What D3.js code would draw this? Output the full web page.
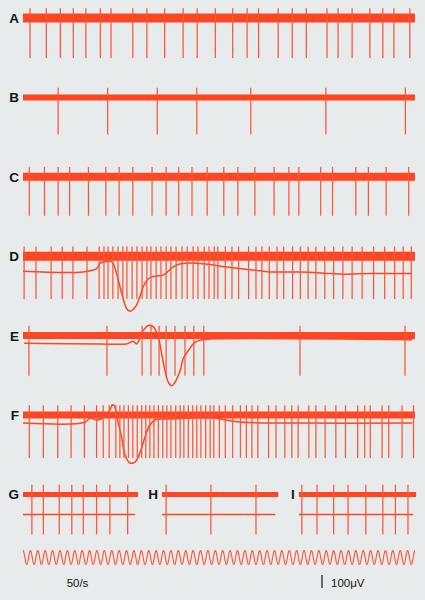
<!DOCTYPE html>
<html><head><meta charset="utf-8">
<script src="https://cdn.jsdelivr.net/npm/d3@7"></script>
<style>
html,body{margin:0;padding:0;background:#e7ebeb;}
svg{display:block;}
</style></head><body>
<svg id="chart" width="425" height="600"></svg>
<script>
// ---- data (time in ms, amplitude in µV) ----
const rowLabels = ["A", "B", "C", "D", "E", "F", "GHI"];
const spikesA = [19,63,101,136,170,209,238,297,335,383,433,471,520,567,606,637,690,728,766,822,852,890,938,973,1003,1046];
const spikesB = [95,229,363,470,616,819,1034];
const spikesC = [17,58,95,126,177,224,260,297,349,387,421,457,498,543,581,627,679,719,746,805,837,900,934,982,1043];
const spikesD = [3,35,76,106,135,173,206,219,230,243,257,270,281,295,308,322,335,346,360,373,387,400,414,430,444,460,473,490,503,517,527,547,565,583,610,630,646,666,687,705,729,750,771,792,816,840,865,890,917,948,978,1005,1028,1050];
const spikesE = [16,227,322,346,368,387,411,438,462,489,749,1033];
const spikesF = [17,55,94,130,166,199,217,233,251,262,273,285,297,309,321,332,343,354,366,378,389,400,413,425,435,447,459,470,481,494,506,516,531,547,567,588,604,619,635,664,684,708,727,744,773,792,817,846,872,905,924,939,971,989,1025,1056];
const spikesG = [24,55,98,132,163,199,235,283];
const spikesH = [387,508,630];
const spikesI = [754,795,840,879,927,973,1007,1041];
const spikeDepth = {A:308, B:285, C:300, D:330, E:308, F:330, G:308, H:308, I:308};

const slowD = [[0,-115],[162,-121],[199,-95],[208,-56],[240,-44],[253,-133],[267,-287],[280,-402],[289,-423],[298,-410],[307,-377],[316,-313],[325,-236],[335,-185],[348,-159],[362,-152],[379,-146],[406,-82],[429,-56],[479,-56],[511,-65],[546,-82],[587,-95],[627,-108],[668,-121],[749,-121],[830,-133],[871,-138],[938,-133],[1052,-133]];
const slowE = [[3,-59],[208,-64],[280,-64],[298,-44],[307,-64],[325,38],[339,77],[352,69],[366,-13],[375,-141],[384,-269],[393,-359],[402,-385],[411,-359],[425,-269],[433,-179],[447,-115],[465,-52],[488,-31],[511,-25],[1052,-31]];
const slowF = [[0,-62],[168,-56],[181,-23],[197,-38],[211,-31],[235,38],[241,77],[247,70],[254,-15],[268,-192],[276,-308],[289,-369],[303,-362],[316,-292],[330,-169],[343,-77],[357,-38],[397,-31],[511,-23],[587,-54],[749,-62],[1052,-62]];
const windowG = [0, 311], windowH = [376, 690], windowI = [746, 1063];
const slowGHI = -154;
const timingHz = 50;
const scaleBarUV = 100;

// ---- scales ----
const svg = d3.select("#chart");
const W = 425, H = 600;
svg.append("rect").attr("width", W).attr("height", H).attr("fill", "#e7ebeb");
const x = d3.scaleLinear().domain([0, 1060]).range([23, 415]);
const v = d3.scaleLinear().domain([-100, 100]).range([13, -13]); // µV -> px offset
const rowY = d3.scalePoint().domain(rowLabels).range([18, 494.4]);

const ink = "#ff4521";
const spikeInk = "#ff5535";
const bandWidth = {A:9, B:6, C:8, D:9, E:7, F:7, GHI:5};
const spikeUp = 75;

const line = d3.line().x(d => x(d[0])).y(d => d[1]);

function drawTrace(label, row, t0, t1, spikes, slow) {
  const cy = rowY(row);
  const g = svg.append("g").attr("class", "trace-" + label);
  if (slow) {
    g.append("path")
      .attr("d", d3.line().curve(d3.curveCatmullRom).x(d => x(d[0])).y(d => cy + v(d[1]))(slow))
      .attr("fill", "none").attr("stroke", ink).attr("stroke-width", 1.5);
  }
  g.append("path")
    .attr("d", line([[t0, cy], [t1, cy]]))
    .attr("stroke", ink).attr("stroke-width", bandWidth[row]).attr("fill", "none");
  g.selectAll("line.spike").data(spikes).join("line")
    .attr("class", "spike")
    .attr("x1", d => x(d)).attr("x2", d => x(d))
    .attr("y1", cy + v(spikeUp)).attr("y2", cy + v(-spikeDepth[label]))
    .attr("stroke", spikeInk).attr("stroke-width", 1.25);
  g.append("text")
    .attr("x", x(t0) - 4).attr("y", cy + 5)
    .attr("text-anchor", "end")
    .attr("font-family", "Liberation Sans, Arial, sans-serif")
    .attr("font-size", 13.5).attr("font-weight", "bold").attr("fill", "#151515")
    .text(label);
}

drawTrace("A", "A", 0, 1060, spikesA, null);
drawTrace("B", "B", 0, 1060, spikesB, null);
drawTrace("C", "C", 0, 1060, spikesC, null);
drawTrace("D", "D", 0, 1060, spikesD, slowD);
drawTrace("E", "E", 0, 1060, spikesE, slowE);
drawTrace("F", "F", 0, 1060, spikesF, slowF);
drawTrace("G", "GHI", windowG[0], windowG[1], spikesG, [[windowG[0], slowGHI], [windowG[1] - 8, slowGHI]]);
drawTrace("H", "GHI", windowH[0], windowH[1], spikesH, [[windowH[0], slowGHI], [windowH[1] - 8, slowGHI]]);
drawTrace("I", "GHI", windowI[0], windowI[1], spikesI, [[windowI[0], slowGHI], [windowI[1] - 8, slowGHI]]);

// timing signal 50/s
const sineY = 557.5, sineAmp = 7;
const tt = d3.range(0, 1060.01, 0.5);
svg.append("path")
  .attr("d", d3.line().x(t => x(t)).y(t => sineY - sineAmp * Math.cos(2 * Math.PI * timingHz * t / 1000))(tt))
  .attr("fill", "none").attr("stroke", spikeInk).attr("stroke-width", 1.1);

svg.append("text").attr("x", 77.5).attr("y", 587).attr("text-anchor", "middle")
  .attr("font-family", "Liberation Sans, Arial, sans-serif").attr("font-size", 11.5).attr("fill", "#151515")
  .text(timingHz + "/s");

// 100 µV scale bar
const barX = 322, barBottom = 588;
svg.append("line").attr("x1", barX).attr("x2", barX)
  .attr("y1", barBottom + v(scaleBarUV)).attr("y2", barBottom)
  .attr("stroke", "#151515").attr("stroke-width", 1.2);
svg.append("text").attr("x", 331).attr("y", 587)
  .attr("font-family", "Liberation Sans, Arial, sans-serif").attr("font-size", 11.5).attr("fill", "#151515")
  .text(scaleBarUV + "μV");
</script>
</body></html>
